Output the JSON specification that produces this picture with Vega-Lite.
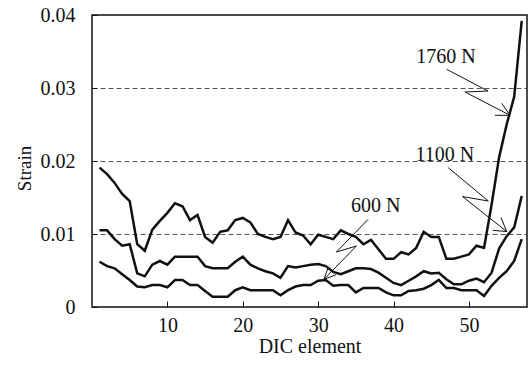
{
  "$schema": "https://vega.github.io/schema/vega-lite/v6.json",
  "width": 435,
  "height": 292,
  "autosize": {"type": "none"},
  "padding": {"left": 92, "top": 15, "right": 2, "bottom": 58},
  "background": "white",
  "config": {
    "view": {"stroke": "#111", "strokeWidth": 1.5},
    "font": "Liberation Serif",
    "axis": {"labelFont": "Liberation Serif", "titleFont": "Liberation Serif", "labelColor": "#111", "titleColor": "#111", "titleFontWeight": "normal"}
  },
  "datasets": {
    "strain": [
      {"load":"1760 N","x":1,"s":0.0191},{"load":"1760 N","x":2,"s":0.0182},{"load":"1760 N","x":3,"s":0.0170},{"load":"1760 N","x":4,"s":0.0155},{"load":"1760 N","x":5,"s":0.0145},{"load":"1760 N","x":6,"s":0.0086},{"load":"1760 N","x":7,"s":0.0077},{"load":"1760 N","x":8,"s":0.0106},{"load":"1760 N","x":9,"s":0.0118},{"load":"1760 N","x":10,"s":0.0129},
      {"load":"1760 N","x":11,"s":0.0142},{"load":"1760 N","x":12,"s":0.0138},{"load":"1760 N","x":13,"s":0.0119},{"load":"1760 N","x":14,"s":0.0126},{"load":"1760 N","x":15,"s":0.0096},{"load":"1760 N","x":16,"s":0.0088},{"load":"1760 N","x":17,"s":0.0103},{"load":"1760 N","x":18,"s":0.0105},{"load":"1760 N","x":19,"s":0.0119},{"load":"1760 N","x":20,"s":0.0122},
      {"load":"1760 N","x":21,"s":0.0116},{"load":"1760 N","x":22,"s":0.0100},{"load":"1760 N","x":23,"s":0.0096},{"load":"1760 N","x":24,"s":0.0093},{"load":"1760 N","x":25,"s":0.0096},{"load":"1760 N","x":26,"s":0.0119},{"load":"1760 N","x":27,"s":0.0102},{"load":"1760 N","x":28,"s":0.0098},{"load":"1760 N","x":29,"s":0.0086},{"load":"1760 N","x":30,"s":0.0099},
      {"load":"1760 N","x":31,"s":0.0096},{"load":"1760 N","x":32,"s":0.0093},{"load":"1760 N","x":33,"s":0.0105},{"load":"1760 N","x":34,"s":0.0100},{"load":"1760 N","x":35,"s":0.0096},{"load":"1760 N","x":36,"s":0.0086},{"load":"1760 N","x":37,"s":0.0092},{"load":"1760 N","x":38,"s":0.0079},{"load":"1760 N","x":39,"s":0.0066},{"load":"1760 N","x":40,"s":0.0066},
      {"load":"1760 N","x":41,"s":0.0075},{"load":"1760 N","x":42,"s":0.0072},{"load":"1760 N","x":43,"s":0.0081},{"load":"1760 N","x":44,"s":0.0103},{"load":"1760 N","x":45,"s":0.0096},{"load":"1760 N","x":46,"s":0.0096},{"load":"1760 N","x":47,"s":0.0066},{"load":"1760 N","x":48,"s":0.0066},{"load":"1760 N","x":49,"s":0.0069},{"load":"1760 N","x":50,"s":0.0072},
      {"load":"1760 N","x":51,"s":0.0084},{"load":"1760 N","x":52,"s":0.0081},{"load":"1760 N","x":53,"s":0.0140},{"load":"1760 N","x":54,"s":0.0205},{"load":"1760 N","x":55,"s":0.0250},{"load":"1760 N","x":56,"s":0.0288},{"load":"1760 N","x":57,"s":0.0392},
      {"load":"1100 N","x":1,"s":0.0105},{"load":"1100 N","x":2,"s":0.0105},{"load":"1100 N","x":3,"s":0.0093},{"load":"1100 N","x":4,"s":0.0084},{"load":"1100 N","x":5,"s":0.0086},{"load":"1100 N","x":6,"s":0.0046},{"load":"1100 N","x":7,"s":0.0042},{"load":"1100 N","x":8,"s":0.0058},{"load":"1100 N","x":9,"s":0.0063},{"load":"1100 N","x":10,"s":0.0058},
      {"load":"1100 N","x":11,"s":0.0069},{"load":"1100 N","x":12,"s":0.0069},{"load":"1100 N","x":13,"s":0.0069},{"load":"1100 N","x":14,"s":0.0069},{"load":"1100 N","x":15,"s":0.0056},{"load":"1100 N","x":16,"s":0.0053},{"load":"1100 N","x":17,"s":0.0053},{"load":"1100 N","x":18,"s":0.0053},{"load":"1100 N","x":19,"s":0.0062},{"load":"1100 N","x":20,"s":0.0069},
      {"load":"1100 N","x":21,"s":0.0058},{"load":"1100 N","x":22,"s":0.0053},{"load":"1100 N","x":23,"s":0.0049},{"load":"1100 N","x":24,"s":0.0046},{"load":"1100 N","x":25,"s":0.0040},{"load":"1100 N","x":26,"s":0.0056},{"load":"1100 N","x":27,"s":0.0054},{"load":"1100 N","x":28,"s":0.0056},{"load":"1100 N","x":29,"s":0.0058},{"load":"1100 N","x":30,"s":0.0059},
      {"load":"1100 N","x":31,"s":0.0056},{"load":"1100 N","x":32,"s":0.0048},{"load":"1100 N","x":33,"s":0.0045},{"load":"1100 N","x":34,"s":0.0049},{"load":"1100 N","x":35,"s":0.0053},{"load":"1100 N","x":36,"s":0.0053},{"load":"1100 N","x":37,"s":0.0052},{"load":"1100 N","x":38,"s":0.0047},{"load":"1100 N","x":39,"s":0.0040},{"load":"1100 N","x":40,"s":0.0033},
      {"load":"1100 N","x":41,"s":0.0030},{"load":"1100 N","x":42,"s":0.0036},{"load":"1100 N","x":43,"s":0.0042},{"load":"1100 N","x":44,"s":0.0049},{"load":"1100 N","x":45,"s":0.0046},{"load":"1100 N","x":46,"s":0.0047},{"load":"1100 N","x":47,"s":0.0038},{"load":"1100 N","x":48,"s":0.0031},{"load":"1100 N","x":49,"s":0.0031},{"load":"1100 N","x":50,"s":0.0036},
      {"load":"1100 N","x":51,"s":0.0039},{"load":"1100 N","x":52,"s":0.0034},{"load":"1100 N","x":53,"s":0.0047},{"load":"1100 N","x":54,"s":0.0080},{"load":"1100 N","x":55,"s":0.0097},{"load":"1100 N","x":56,"s":0.0109},{"load":"1100 N","x":57,"s":0.0152},
      {"load":"600 N","x":1,"s":0.0062},{"load":"600 N","x":2,"s":0.0056},{"load":"600 N","x":3,"s":0.0053},{"load":"600 N","x":4,"s":0.0045},{"load":"600 N","x":5,"s":0.0037},{"load":"600 N","x":6,"s":0.0028},{"load":"600 N","x":7,"s":0.0027},{"load":"600 N","x":8,"s":0.0030},{"load":"600 N","x":9,"s":0.0030},{"load":"600 N","x":10,"s":0.0027},
      {"load":"600 N","x":11,"s":0.0037},{"load":"600 N","x":12,"s":0.0037},{"load":"600 N","x":13,"s":0.0030},{"load":"600 N","x":14,"s":0.0030},{"load":"600 N","x":15,"s":0.0022},{"load":"600 N","x":16,"s":0.0014},{"load":"600 N","x":17,"s":0.0014},{"load":"600 N","x":18,"s":0.0014},{"load":"600 N","x":19,"s":0.0023},{"load":"600 N","x":20,"s":0.0027},
      {"load":"600 N","x":21,"s":0.0023},{"load":"600 N","x":22,"s":0.0023},{"load":"600 N","x":23,"s":0.0023},{"load":"600 N","x":24,"s":0.0023},{"load":"600 N","x":25,"s":0.0016},{"load":"600 N","x":26,"s":0.0023},{"load":"600 N","x":27,"s":0.0028},{"load":"600 N","x":28,"s":0.0030},{"load":"600 N","x":29,"s":0.0030},{"load":"600 N","x":30,"s":0.0036},
      {"load":"600 N","x":31,"s":0.0037},{"load":"600 N","x":32,"s":0.0029},{"load":"600 N","x":33,"s":0.0030},{"load":"600 N","x":34,"s":0.0030},{"load":"600 N","x":35,"s":0.0020},{"load":"600 N","x":36,"s":0.0026},{"load":"600 N","x":37,"s":0.0026},{"load":"600 N","x":38,"s":0.0026},{"load":"600 N","x":39,"s":0.0020},{"load":"600 N","x":40,"s":0.0016},
      {"load":"600 N","x":41,"s":0.0016},{"load":"600 N","x":42,"s":0.0022},{"load":"600 N","x":43,"s":0.0023},{"load":"600 N","x":44,"s":0.0025},{"load":"600 N","x":45,"s":0.0030},{"load":"600 N","x":46,"s":0.0037},{"load":"600 N","x":47,"s":0.0026},{"load":"600 N","x":48,"s":0.0026},{"load":"600 N","x":49,"s":0.0023},{"load":"600 N","x":50,"s":0.0023},
      {"load":"600 N","x":51,"s":0.0023},{"load":"600 N","x":52,"s":0.0015},{"load":"600 N","x":53,"s":0.0029},{"load":"600 N","x":54,"s":0.0040},{"load":"600 N","x":55,"s":0.0049},{"load":"600 N","x":56,"s":0.0063},{"load":"600 N","x":57,"s":0.0093}
    ],
    "arrows": [
      {"seg":"a1","o":1,"x":47.04,"s":0.03256},{"seg":"a1","o":2,"x":52.52,"s":0.02959},{"seg":"a1","o":3,"x":49.47,"s":0.02945},{"seg":"a1","o":4,"x":55.45,"s":0.02626},
      {"seg":"h1","o":1,"x":54.35,"s":0.0279},{"seg":"h1","o":2,"x":55.45,"s":0.02626},{"seg":"h1","o":3,"x":53.44,"s":0.02626},
      {"seg":"a2","o":1,"x":47.25,"s":0.01909},{"seg":"a2","o":2,"x":52.57,"s":0.01452},{"seg":"a2","o":3,"x":49.16,"s":0.01512},{"seg":"a2","o":4,"x":55.01,"s":0.01033},
      {"seg":"h2","o":1,"x":54.25,"s":0.01225},{"seg":"h2","o":2,"x":55.01,"s":0.01033},{"seg":"h2","o":3,"x":53.15,"s":0.01051},
      {"seg":"a3","o":1,"x":36.63,"s":0.01201},{"seg":"a3","o":2,"x":32.42,"s":0.00753},{"seg":"a3","o":3,"x":35.07,"s":0.00836},{"seg":"a3","o":4,"x":30.77,"s":0.00379},
      {"seg":"h3","o":1,"x":32.38,"s":0.00442},{"seg":"h3","o":2,"x":30.77,"s":0.00379},{"seg":"h3","o":3,"x":31.34,"s":0.00548}
    ],
    "labels": [
      {"t":"1760 N","x":46.95,"s":0.0342},
      {"t":"1100 N","x":46.81,"s":0.0208},
      {"t":"600 N","x":37.64,"s":0.0138}
    ]
  },
  "encoding": {
    "x": {"field": "x", "type": "quantitative", "scale": {"domain": [0, 57.7], "nice": false, "zero": false},
      "axis": {"title": "DIC element", "values": [10, 20, 30, 40, 50], "grid": false, "domain": false, "tickSize": -6, "tickColor": "#111", "tickWidth": 1, "labelFontSize": 20, "titleFontSize": 20, "labelPadding": 14, "titlePadding": 1}},
    "y": {"field": "s", "type": "quantitative", "scale": {"domain": [0, 0.04], "nice": false},
      "axis": {"title": "Strain", "values": [0, 0.01, 0.02, 0.03, 0.04], "format": ".2~f", "domain": false, "tickSize": -5, "tickColor": "#111", "tickWidth": 1, "labelFontSize": 20, "labelPadding": 22, "titleFontSize": 19, "titleAngle": -90, "titleBaseline": "middle", "titleAlign": "center", "titleX": -68, "titleY": 153,
        "grid": true, "gridColor": "#555", "gridDash": [5, 3], "gridWidth": 1,
        "gridOpacity": {"condition": {"test": "datum.value < 0.005 || datum.value > 0.035", "value": 0}, "value": 1}}}
  },
  "layer": [
    {
      "data": {"name": "strain"},
      "mark": {"type": "line", "color": "#111", "strokeWidth": 2.5, "strokeJoin": "miter"},
      "encoding": {"detail": {"field": "load"}}
    },
    {
      "data": {"name": "arrows"},
      "mark": {"type": "line", "color": "#111", "strokeWidth": 1},
      "encoding": {"detail": {"field": "seg"}, "order": {"field": "o"}}
    },
    {
      "data": {"name": "labels"},
      "mark": {"type": "text", "font": "Liberation Serif", "fontSize": 20, "color": "#111", "align": "center", "baseline": "middle"},
      "encoding": {"text": {"field": "t"}}
    }
  ]
}
